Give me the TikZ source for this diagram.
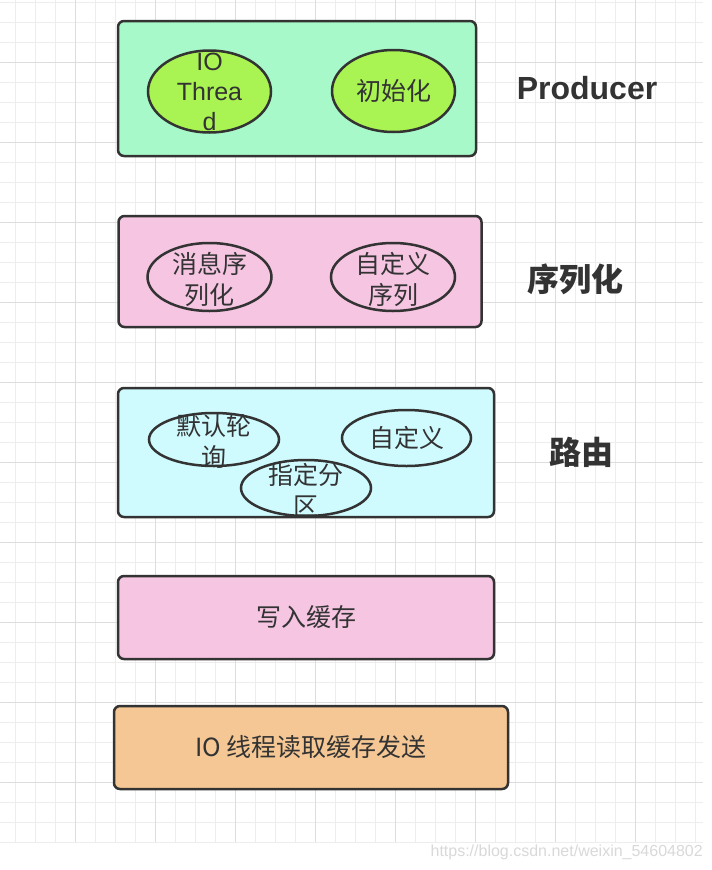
\documentclass[tikz,border=0pt]{standalone}
\usepackage{fontspec}
\setmainfont{Liberation Sans}
\newfontfamily\zh{Noto Sans CJK SC}
\usetikzlibrary{shapes.geometric}
\usetikzlibrary{positioning}

\definecolor{inkgray}{HTML}{333333}
\definecolor{gridminor}{HTML}{EDEDED}
\definecolor{gridmajor}{HTML}{DDDDDD}
\definecolor{mint}{HTML}{A8F9CA}
\definecolor{lime}{HTML}{A9F453}
\definecolor{rosa}{HTML}{F5C5E2}
\definecolor{icecyan}{HTML}{CFFBFF}
\definecolor{apricot}{HTML}{F5C794}

\tikzset{
  stage/.style={rectangle, rounded corners=6pt, draw=inkgray, line width=2.5pt,
    text=inkgray, font=\zh\fontsize{25}{30}\selectfont},
  blob/.style={ellipse, draw=inkgray, line width=2.5pt, inner sep=0pt},
  intext/.style={text=inkgray, align=center, font=\zh\fontsize{25}{31}\selectfont},
  tag/.style={text=inkgray, font=\bfseries\fontsize{32}{38}\selectfont},
}

\begin{document}
\begin{tikzpicture}[x=1pt, y=-1pt]

  \useasboundingbox[fill=white] (0,0) rectangle (712,870);

  % Grid
  \foreach \gx in {15,35,...,695} \draw[gridminor, line width=1pt] (\gx,0) -- (\gx,842);
  \foreach \gy in {2,22,...,842} \draw[gridminor, line width=1pt] (0,\gy) -- (703,\gy);
  \foreach \gx in {75,155,...,635} \draw[gridmajor, line width=1pt] (\gx,0) -- (\gx,842);
  \foreach \gy in {62,142,...,782} \draw[gridmajor, line width=1pt] (0,\gy) -- (703,\gy);

  % Define nodes
  \node[stage, fill=mint, minimum width=358pt, minimum height=135pt] (producer) at (297,88.5) {};
  \node[stage, fill=rosa, minimum width=363pt, minimum height=111pt] (serial) at (300,271.5) {};
  \node[stage, fill=icecyan, minimum width=376pt, minimum height=129pt] (route) at (306,452.5) {};
  \node[stage, fill=rosa, minimum width=376pt, minimum height=83pt] (buffer) at (306,617.5) {写入缓存};
  \node[stage, fill=apricot, minimum width=394pt, minimum height=83pt] (sender) at (311,747.5) {IO 线程读取缓存发送};

  \node[blob, fill=lime, minimum width=123pt, minimum height=82pt,
    label={[intext, font=\fontsize{25}{30}\selectfont]center:IO\\Threa\\d}] (iothread) at (209.5,91.5) {};
  \node[blob, fill=lime, minimum width=123pt, minimum height=82pt,
    label={[intext]center:初始化}] (init) at (393.5,91) {};

  \node[blob, fill=rosa, minimum width=124pt, minimum height=68pt,
    label={[intext, yshift=-2pt]center:消息序\\列化}] (msgser) at (209.5,277) {};
  \node[blob, fill=rosa, minimum width=124pt, minimum height=68pt,
    label={[intext, yshift=-2pt]center:自定义\\序列}] (customser) at (393,277) {};

  \node[blob, fill=icecyan, minimum width=130pt, minimum height=53pt,
    label={[intext, yshift=-2pt]center:默认轮\\询}] (roundrobin) at (214,439.5) {};
  \node[blob, fill=icecyan, minimum width=129pt, minimum height=56pt,
    label={[intext]center:自定义}] (customroute) at (406.5,438) {};
  \node[blob, fill=icecyan, minimum width=130pt, minimum height=56pt,
    label={[intext, yshift=-2pt]center:指定分\\区}] (partition) at (306,488) {};

  % Labels
  \node[tag, right=36pt of producer] (producertag) {Producer};
  \node[tag, font=\zh\bfseries\fontsize{32}{38}\selectfont, right=41pt of serial, yshift=-8pt] (serialtag) {序列化};
  \node[tag, font=\zh\bfseries\fontsize{32}{38}\selectfont, right=51pt of route] (routetag) {路由};

  \node[text=gray!30, font=\fontsize{16}{19}\selectfont, anchor=east, inner sep=0pt] (mark) at (703,852) {https://blog.csdn.net/weixin\_54604802};

\end{tikzpicture}
\end{document}
